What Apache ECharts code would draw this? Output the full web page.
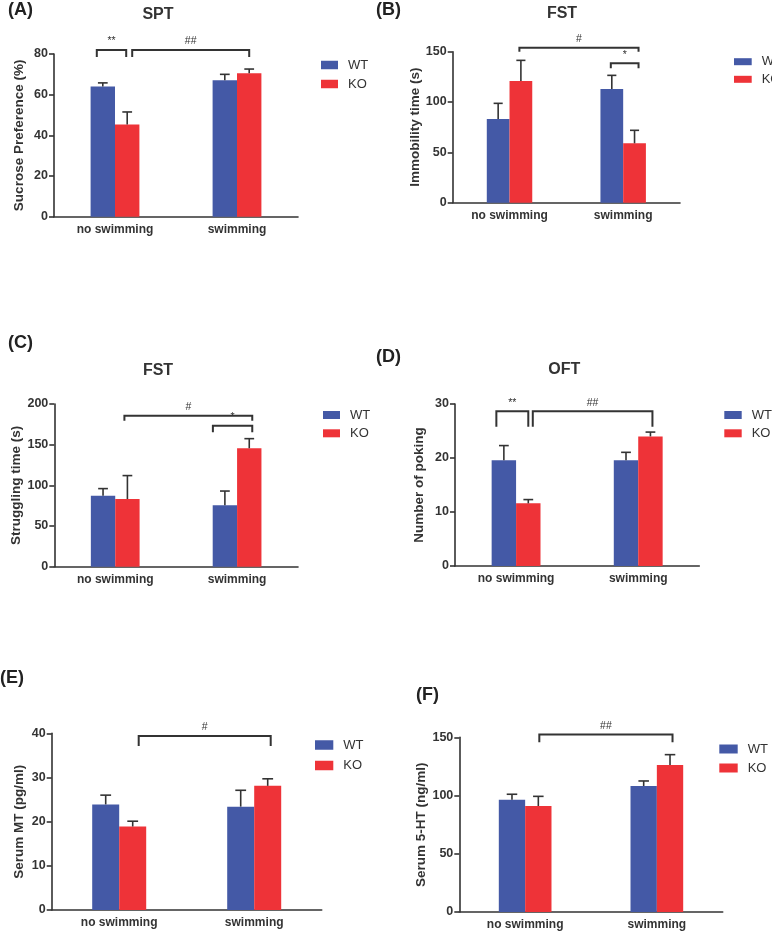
<!DOCTYPE html>
<html>
<head>
<meta charset="utf-8">
<script src="https://cdn.jsdelivr.net/npm/echarts@6/dist/echarts.min.js"></script>
<style>html,body{margin:0;padding:0;background:#fff}#c{width:772px;height:934px}</style>
</head>
<body>
<div id="c"></div>
<script>
// ---------------- DATA ----------------
const categories = ['no swimming', 'swimming'];
const groups = ['WT', 'KO'];

// (A) SPT - Sucrose Preference (%)
const sptWT = [64.0, 67.1];      const sptWTsem = [1.8, 2.9];
const sptKO = [45.3, 70.5];      const sptKOsem = [6.2, 2.1];
// (B) FST - Immobility time (s)
const immWT = [83.1, 113.0];     const immWTsem = [15.6, 13.5];
const immKO = [120.9, 59.0];     const immKOsem = [20.5, 12.9];
// (C) FST - Struggling time (s)
const strWT = [87.3, 75.5];      const strWTsem = [8.7, 17.5];
const strKO = [83.2, 145.6];     const strKOsem = [28.8, 11.8];
// (D) OFT - Number of poking
const pokWT = [19.6, 19.6];      const pokWTsem = [2.7, 1.45];
const pokKO = [11.6, 24.0];      const pokKOsem = [0.7, 0.8];
// (E) Serum MT (pg/ml)
const mtWT = [23.9, 23.4];       const mtWTsem = [2.1, 3.7];
const mtKO = [18.9, 28.1];       const mtKOsem = [1.2, 1.6];
// (F) Serum 5-HT (ng/ml)
const htWT = [96.4, 108.2];      const htWTsem = [4.7, 4.3];
const htKO = [91.0, 126.2];      const htKOsem = [8.3, 8.9];

// y axis ticks
const yTicksA = [0, 20, 40, 60, 80];
const yTicksB = [0, 50, 100, 150];
const yTicksC = [0, 50, 100, 150, 200];
const yTicksD = [0, 10, 20, 30];
const yTicksE = [0, 10, 20, 30, 40];
const yTicksF = [0, 50, 100, 150];

// significance brackets: [fromCat, fromGroup, toCat, toGroup, topValue, legValue]
const sigA = [[0, 0, 0, 1, 82.0, 78.5], [0, 1, 1, 1, 82.0, 78.5]];
const sigAlabels = ['**', '##'];
const sigB = [[0, 1, 1, 1, 154.0, 150.0], [1, 0, 1, 1, 138.5, 133.5]];
const sigBlabels = ['#', '*'];
const sigC = [[0, 1, 1, 1, 185.6, 179.5], [1, 0, 1, 1, 173.3, 165.2]];
const sigClabels = ['#', '*'];
const sigD = [[0, 0, 0, 1, 28.65, 25.8], [0, 1, 1, 1, 28.65, 25.8]];
const sigDlabels = ['**', '##'];
const sigE = [[0, 1, 1, 1, 39.4, 37.1]];
const sigElabels = ['#'];
const sigF = [[0, 1, 1, 1, 152.3, 145.7]];
const sigFlabels = ['##'];

// ---------------- LAYOUT / STYLE ----------------
const FONT = '"Liberation Sans", Arial, Helvetica, sans-serif';
const BLUE = '#4459a6', RED = '#ee3338', INK = '#333333';

const panels = [
  { tag: '(A)', tagXY: [8, 10], title: 'SPT', titleXY: [158, 15],
    grid: { left: 54, top: 54, width: 244, height: 162.7 }, yName: 'Sucrose Preference (%)', nameGap: 28,
    ticks: yTicksA, wt: sptWT, wts: sptWTsem, ko: sptKO, kos: sptKOsem, sig: sigA, sigL: sigAlabels,
    sigDx: [[-6, -1], [5, 0]],
    legend: { left: 321, top: 58.5, gap: 6, w: 17, h: 8.5 } },
  { tag: '(B)', tagXY: [376, 10], title: 'FST', titleXY: [562, 14],
    grid: { left: 452.7, top: 51.7, width: 227.3, height: 151 }, yName: 'Immobility time (s)', nameGap: 29,
    ticks: yTicksB, wt: immWT, wts: immWTsem, ko: immKO, kos: immKOsem, sig: sigB, sigL: sigBlabels,
    sigDx: [[-1.5, 4], [-1, 4]],
    legend: { left: 734, top: 55.2, gap: 4.6, w: 17.7, h: 7 } },
  { tag: '(C)', tagXY: [8, 343], title: 'FST', titleXY: [158, 370.7],
    grid: { left: 54.3, top: 404, width: 243.7, height: 162.7 }, yName: 'Struggling time (s)', nameGap: 28,
    ticks: yTicksC, wt: strWT, wts: strWTsem, ko: strKO, kos: strKOsem, sig: sigC, sigL: sigClabels,
    sigDx: [[-3, 3], [-12, 3]],
    legend: { left: 323, top: 408.5, gap: 5.3, w: 17, h: 8 } },
  { tag: '(D)', tagXY: [376, 356.7], title: 'OFT', titleXY: [564.3, 370],
    grid: { left: 455, top: 404, width: 244.3, height: 162 }, yName: 'Number of poking', nameGap: 29,
    ticks: yTicksD, wt: pokWT, wts: pokWTsem, ko: pokKO, kos: pokKOsem, sig: sigD, sigL: sigDlabels,
    sigDx: [[-7.5, 0], [4.5, 2]],
    legend: { left: 724.3, top: 408.5, gap: 5.3, w: 17.4, h: 8 } },
  { tag: '(E)', tagXY: [0, 678], title: '', titleXY: [0, 0],
    grid: { left: 51.7, top: 733.3, width: 270, height: 176.7 }, yName: 'Serum MT (pg/ml)', nameGap: 25,
    ticks: yTicksE, wt: mtWT, wts: mtWTsem, ko: mtKO, kos: mtKOsem, sig: sigE, sigL: sigElabels,
    sigDx: [[6, 3]],
    legend: { left: 315, top: 738.5, gap: 7.5, w: 18.3, h: 9.5 } },
  { tag: '(F)', tagXY: [416, 695], title: '', titleXY: [0, 0],
    grid: { left: 459.3, top: 737.3, width: 263.4, height: 174.7 }, yName: 'Serum 5-HT (ng/ml)', nameGap: 30.5,
    ticks: yTicksF, wt: htWT, wts: htWTsem, ko: htKO, kos: htKOsem, sig: sigF, sigL: sigFlabels,
    sigDx: [[1, 2.5]],
    legend: { left: 719.3, top: 742.5, gap: 6, w: 18.4, h: 9 } }
];

// ---------------- BUILD OPTION ----------------
const grids = [], xAxes = [], yAxes = [], series = [], legends = [], graphics = [];

const OFF = 0.1; // bar centre offset (fraction of band) for barCategoryGap 60%, barGap 0

function errorRender(params, api) {
  const cat = api.value(0), mean = api.value(1), sem = api.value(2), grp = api.value(3);
  const band = api.size([1, 0])[0];
  const base = api.coord([cat, mean]);
  const top = api.coord([cat, mean + sem]);
  const x = base[0] + (grp === 0 ? -OFF : OFF) * band;
  const cap = band * 0.2 * 0.2;
  const st = { stroke: INK, lineWidth: 1.6 };
  return { type: 'group', children: [
    { type: 'line', shape: { x1: x, y1: base[1], x2: x, y2: top[1] }, style: st },
    { type: 'line', shape: { x1: x - cap, y1: top[1], x2: x + cap, y2: top[1] }, style: st }
  ] };
}

panels.forEach((p, i) => {
  grids.push(Object.assign({ containLabel: false }, p.grid));
  xAxes.push({
    type: 'category', gridIndex: i, data: categories,
    axisLine: { lineStyle: { color: INK, width: 1.6 } },
    axisTick: { alignWithLabel: true, length: 5, lineStyle: { color: INK, width: 1.6 } },
    axisLabel: { color: INK, fontFamily: FONT, fontWeight: 'bold', fontSize: 12, margin: 7 }
  });
  const n = p.ticks.length;
  yAxes.push({
    type: 'value', gridIndex: i, min: p.ticks[0], max: p.ticks[n - 1], interval: p.ticks[1] - p.ticks[0],
    name: p.yName, nameLocation: 'middle', nameGap: p.nameGap,
    nameTextStyle: { color: INK, fontFamily: FONT, fontWeight: 'bold', fontSize: 13.5 },
    axisLine: { show: true, lineStyle: { color: INK, width: 1.6 } },
    axisTick: { show: true, length: 5, lineStyle: { color: INK, width: 1.6 } },
    splitLine: { show: false },
    axisLabel: { color: INK, fontFamily: FONT, fontWeight: 'bold', fontSize: 12.5, margin: 6 }
  });
  [['WT', p.wt, BLUE], ['KO', p.ko, RED]].forEach(([name, vals, col]) => {
    series.push({
      type: 'bar', name, data: vals, xAxisIndex: i, yAxisIndex: i,
      barGap: '0%', barCategoryGap: '60%', itemStyle: { color: col }, silent: true
    });
  });
  const errData = [];
  for (let c = 0; c < categories.length; c++) {
    errData.push([c, p.wt[c], p.wts[c], 0]);
    errData.push([c, p.ko[c], p.kos[c], 1]);
  }
  series.push({
    type: 'custom', xAxisIndex: i, yAxisIndex: i, data: errData, renderItem: errorRender,
    encode: { x: 0, y: 1 }, z: 5, silent: true
  });
  const sig = p.sig, labels = p.sigL, dxs = p.sigDx;
  series.push({
    type: 'custom', xAxisIndex: i, yAxisIndex: i, clip: false, z: 5, silent: true,
    data: sig.map(s => [s[0], s[4]]),
    encode: { x: 0, y: 1 },
    renderItem: function (params, api) {
      const s = sig[params.dataIndex], dx = dxs[params.dataIndex];
      const band = api.size([1, 0])[0];
      const a = api.coord([s[0], s[4]]), b = api.coord([s[2], s[4]]);
      const legY = api.coord([s[0], s[5]])[1];
      const x1 = a[0] + (s[1] === 0 ? -OFF : OFF) * band + dx[0];
      const x2 = b[0] + (s[3] === 0 ? -OFF : OFF) * band + dx[1];
      const y = a[1];
      return { type: 'group', children: [
        { type: 'polyline', shape: { points: [[x1, legY], [x1, y], [x2, y], [x2, legY]] },
          style: { stroke: INK, lineWidth: 2, fill: null } },
        { type: 'text', x: (x1 + x2) / 2, y: y - 3,
          style: { text: labels[params.dataIndex], fill: INK, font: '10.5px ' + FONT,
                   textAlign: 'center', textVerticalAlign: 'bottom' } }
      ] };
    }
  });
  legends.push({
    data: groups, orient: 'vertical', left: p.legend.left, top: p.legend.top, padding: 0,
    itemGap: p.legend.gap, itemWidth: p.legend.w, itemHeight: p.legend.h, icon: 'rect',
    selectedMode: false,
    textStyle: { color: INK, fontFamily: FONT, fontSize: 13, padding: [0, 0, 0, 5] }
  });
  graphics.push({ type: 'text', x: p.tagXY[0], y: p.tagXY[1],
    style: { text: p.tag, fill: '#222', font: 'bold 18px ' + FONT, textAlign: 'left', textVerticalAlign: 'middle' } });
  if (p.title) {
    graphics.push({ type: 'text', x: p.titleXY[0], y: p.titleXY[1],
      style: { text: p.title, fill: INK, font: 'bold 16px ' + FONT, textAlign: 'center', textVerticalAlign: 'middle' } });
  }
});

const chart = echarts.init(document.getElementById('c'), null, { renderer: 'canvas' });
chart.setOption({
  animation: false,
  backgroundColor: '#ffffff',
  grid: grids, xAxis: xAxes, yAxis: yAxes, series, legend: legends, graphic: graphics
});
</script>
</body>
</html>
